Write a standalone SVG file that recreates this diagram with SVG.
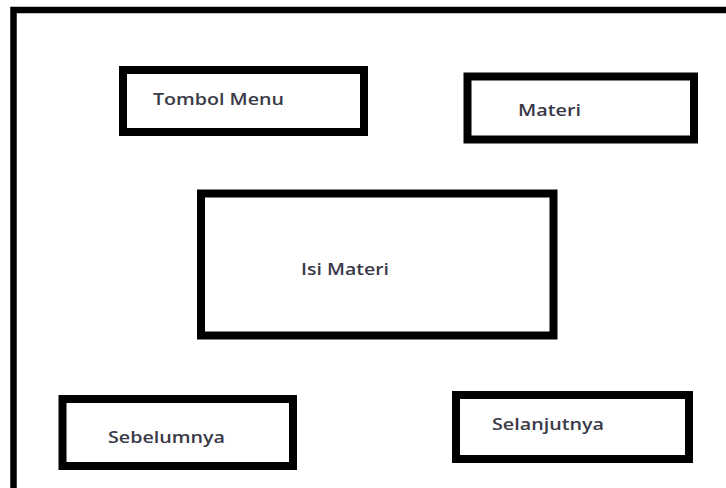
<svg xmlns="http://www.w3.org/2000/svg" width="726" height="488" viewBox="0 0 726 488">
  <style>
    .frame { fill: #ffffff; stroke: #000000; stroke-width: 6.5; }
    .box { fill: #ffffff; stroke: #000000; stroke-width: 8; }
    .label { font-family: "Open Sans", "Noto Sans", "Liberation Sans", sans-serif; font-size: 17px; font-weight: 600; fill: #3a3a48; }
  </style>
  <rect x="0" y="0" width="726" height="488" fill="#ffffff"/>
  <!-- screen border, runs off the right and bottom edges -->
  <rect class="frame" x="13.5" y="10" width="800" height="600"/>
  <g id="tombol-menu">
    <rect class="box" x="123" y="70" width="241" height="62"/>
    <text class="label" x="153" y="105" textLength="131" lengthAdjust="spacingAndGlyphs">Tombol Menu</text>
  </g>
  <g id="materi">
    <rect class="box" x="467.5" y="76.5" width="226.5" height="63"/>
    <text class="label" x="518" y="116" textLength="63" lengthAdjust="spacingAndGlyphs">Materi</text>
  </g>
  <g id="isi-materi">
    <rect class="box" x="201" y="193.5" width="352.5" height="142"/>
    <text class="label" x="301" y="275" textLength="88" lengthAdjust="spacingAndGlyphs">Isi Materi</text>
  </g>
  <g id="sebelumnya">
    <rect class="box" x="62.5" y="399" width="230.5" height="67"/>
    <text class="label" x="108" y="443" textLength="117" lengthAdjust="spacingAndGlyphs">Sebelumnya</text>
  </g>
  <g id="selanjutnya">
    <rect class="box" x="456" y="395" width="233" height="64"/>
    <text class="label" x="492" y="430" textLength="112" lengthAdjust="spacingAndGlyphs">Selanjutnya</text>
  </g>
  <g id="connectors"/>
</svg>
